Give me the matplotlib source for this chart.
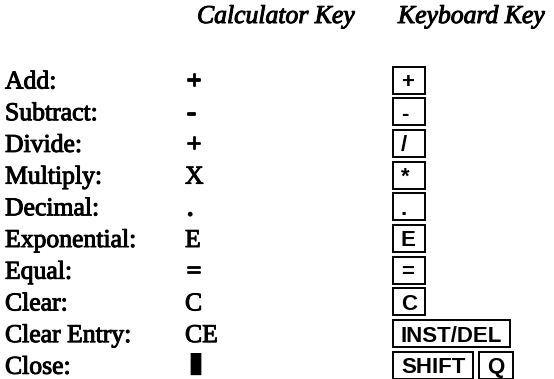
import matplotlib
matplotlib.use("Agg")
import matplotlib.pyplot as plt
import matplotlib.patheffects as pe
from matplotlib.patches import Rectangle

# Table contents
headers = ["Calculator Key", "Keyboard Key"]
labels = ["Add:", "Subtract:", "Divide:", "Multiply:", "Decimal:",
          "Exponential:", "Equal:", "Clear:", "Clear Entry:", "Close:"]
calc_keys = ["+", "-", "+", "X", ".", "E", "=", "C", "CE", "\u25ae"]
keyboard_keys = [["+"], ["-"], ["/"], ["*"], ["."], ["E"], ["="], ["C"],
                 ["INST/DEL"], ["SHIFT", "Q"]]

W, H = 554, 379
fig = plt.figure(figsize=(W / 100, H / 100), dpi=100)
ax = fig.add_axes([0, 0, 1, 1])
ax.set_xlim(0, W)
ax.set_ylim(H, 0)
ax.axis("off")

serif = ["Liberation Serif", "DejaVu Serif"]
sans = ["Liberation Sans", "DejaVu Sans"]
heavy = [pe.withStroke(linewidth=0.7, foreground="black")]  # scanned look
heavier = [pe.withStroke(linewidth=1.3, foreground="black")]

# layout (pixel units)
x_label, x_calc, x_key = 5, 185, 393
y_first, pitch = 80, 31.7
box_h, box_min_w, pad, gap = 27, 32, 8, 6

ax.text(197, 17, headers[0], fontsize=18.5, family=serif, style="italic",
        va="center", ha="left", path_effects=heavy)
ax.text(398, 17, headers[1], fontsize=18.5, family=serif, style="italic",
        va="center", ha="left", path_effects=heavy)

fig.canvas.draw()
renderer = fig.canvas.get_renderer()

for i, (lab, ck, kk) in enumerate(zip(labels, calc_keys, keyboard_keys)):
    y = y_first + i * pitch
    ax.text(x_label, y + 8.5, lab, fontsize=18.5, family=serif, va="baseline",
            path_effects=heavy)
    if ck == "\u25ae":
        ax.text(x_calc + 2, y + 7, ck, fontsize=21,
                family=["DejaVu Sans"], va="baseline")
    elif ck in "+-.=":
        ax.text(x_calc + 2, y + 8.5, ck, fontsize=18.5, family=serif,
                va="baseline", path_effects=heavier)
    else:
        ax.text(x_calc, y + 8.5, ck, fontsize=18.5, family=serif,
                va="baseline", path_effects=heavy)
    x = x_key
    for k in kk:
        t = ax.text(x + pad, y + 8, k, fontsize=16, family=sans,
                    fontweight="bold", va="baseline")
        tw = t.get_window_extent(renderer).width
        bw = max(box_min_w, tw + 2 * pad)
        ax.add_patch(Rectangle((x, y - box_h / 2), bw, box_h, fill=False,
                               edgecolor="black", linewidth=1.4))
        x += bw + gap

fig.savefig("out.png", dpi=100)
